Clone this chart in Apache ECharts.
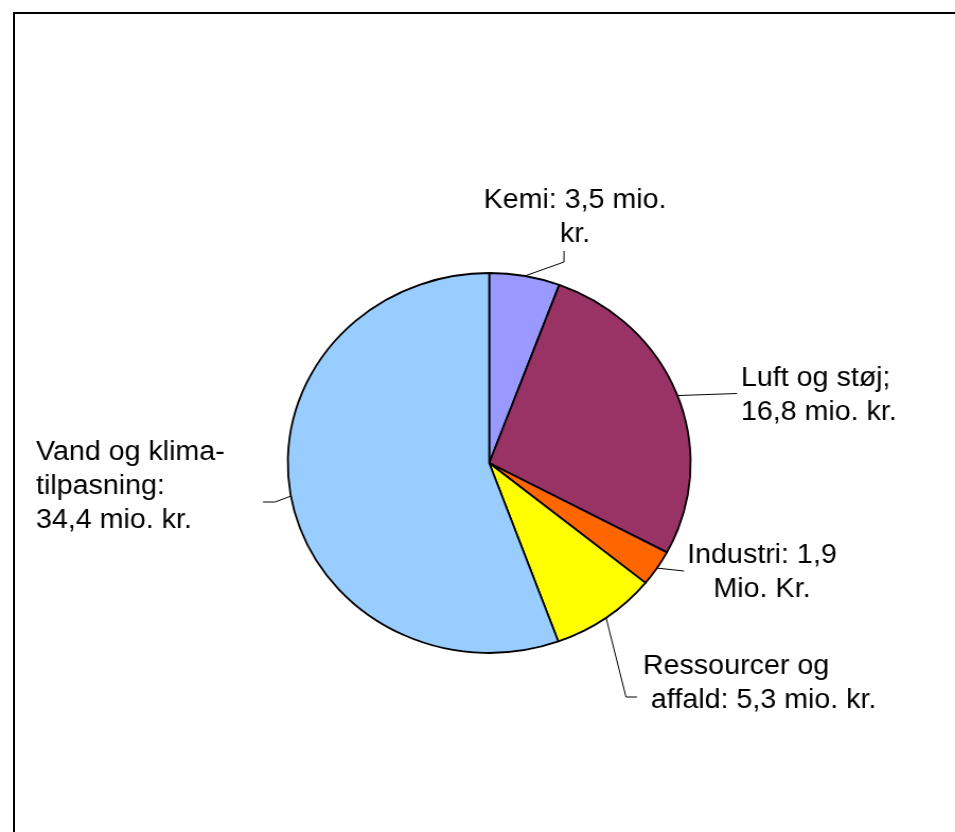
<!DOCTYPE html>
<html>
<head>
<meta charset="utf-8">
<script src="https://cdn.jsdelivr.net/npm/echarts@6/dist/echarts.min.js"></script>
<style>
html,body{margin:0;padding:0;background:#fff;overflow:hidden;width:955px;height:832px;}
#frame{position:absolute;left:13px;top:12px;width:1200px;height:1000px;border-top:2px solid #000;border-left:2px solid #000;box-sizing:border-box;}
#chart{position:absolute;left:0;top:0;width:901px;height:832px;transform:scaleX(1.06);transform-origin:0 0;}
</style>
</head>
<body>
<div id="frame"></div>
<div id="chart"></div>
<script>
// ---- data ----
const categories = ['Kemi', 'Luft og støj', 'Industri', 'Ressourcer og affald', 'Vand og klimatilpasning'];
const values = [3.5, 16.8, 1.9, 5.3, 34.4];
const labelTexts = [
  'Kemi: 3,5 mio.\nkr.',
  'Luft og støj;\n16,8 mio. kr.',
  'Industri: 1,9\nMio. Kr.',
  'Ressourcer og\n affald: 5,3 mio. kr.',
  'Vand og klima-\ntilpasning:\n34,4 mio. kr.'
];
const colors = ['#9999FF', '#993366', '#FF6600', '#FFFF00', '#99CCFF'];

// ---- layout (screen pixels) ----
const SX = 1.06;
const labelPlacement = [
  {x: 575, y: 218, align: 'center', pts: [[564, 262], [564, 251]]},
  {x: 741, y: 396, align: 'left',   pts: [[737, 393.5], [737, 393.5]]},
  {x: 762, y: 573, align: 'center', pts: [[684, 571], [684, 571]]},
  {x: 643, y: 684, align: 'left',   pts: [[626, 697], [637, 697]]},
  {x: 36,  y: 487, align: 'left',   pts: [[275, 502], [263, 502]]}
];

const chart = echarts.init(document.getElementById('chart'), null, {renderer: 'canvas'});
const option = {
  animation: false,
  series: [{
    type: 'pie',
    center: [489.2 / SX, 463],
    radius: 190,
    startAngle: 90,
    clockwise: true,
    avoidLabelOverlap: false,
    emphasis: {disabled: true},
    itemStyle: {borderColor: '#000', borderWidth: 1.8},
    label: {
      show: true,
      position: 'outside',
      formatter: p => labelTexts[p.dataIndex],
      color: '#000',
      fontSize: 27,
      lineHeight: 34,
      fontFamily: '"Liberation Sans", Arial, sans-serif'
    },
    labelLine: {
      show: true,
      length: 10,
      length2: 10,
      lineStyle: {color: '#000', width: 1}
    },
    labelLayout: function (params) {
      const L = labelPlacement[params.dataIndex];
      const res = {x: L.x / SX, y: L.y, align: L.align, verticalAlign: 'middle'};
      if (params.labelLinePoints && params.labelLinePoints.length) {
        const p0 = params.labelLinePoints[0];
        res.labelLinePoints = [
          [p0[0], p0[1]],
          [L.pts[0][0] / SX, L.pts[0][1]],
          [L.pts[1][0] / SX, L.pts[1][1]]
        ];
      }
      return res;
    },
    data: categories.map((c, i) => ({name: c, value: values[i], itemStyle: {color: colors[i]}}))
  }]
};
chart.setOption(option);
</script>
</body>
</html>
